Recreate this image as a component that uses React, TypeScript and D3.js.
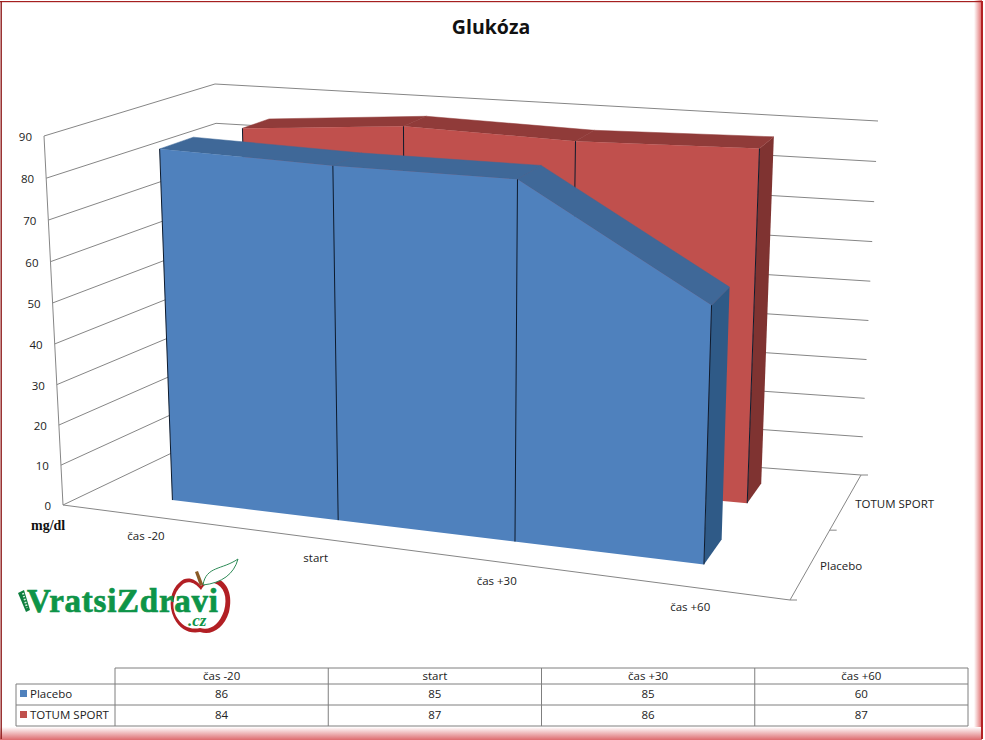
import * as d3 from 'd3';

const width = 985;
const height = 740;

const categories = ['čas -20', 'start', 'čas +30', 'čas +60'];
const seriesNames = ['Placebo', 'TOTUM SPORT'];
const placebo = [86, 85, 85, 60];
const totumSport = [84, 87, 86, 87];
const valueTicks = [0, 10, 20, 30, 40, 50, 60, 70, 80, 90];

const seriesColors = [
  { front: '#4f81bd', top: '#3f6898', side: '#2f5a87', swatch: '#4f81bd' },
  { front: '#c0504d', top: '#903b39', side: '#7f3331', swatch: '#c0504d' },
];

// corners of the 3d box as seen on screen
const box = {
  floorFrontLeft: [63, 505],
  floorFrontRight: [790, 600],
  floorBackLeft: [224, 428],
  floorBackRight: [861, 475],
  topFrontLeft: [44, 136],
  topFrontRight: [806, 192],
  topBackLeft: [215, 84],
  topBackRight: [878, 121],
};

const catScale = d3.scalePoint<string>().domain(categories).range([0, 1]).padding(0.5);
const serScale = d3
  .scaleBand<string>()
  .domain(seriesNames)
  .range([0, 1])
  .paddingInner(0.62)
  .paddingOuter(0.31);
const valScale = d3.scaleLinear().domain([0, 90]).range([0, 1]);

const warp = (t: number, k: number) => t / (t + (1 - t) * k);
const mix = (a: number[], b: number[], t: number) => [a[0] + (b[0] - a[0]) * t, a[1] + (b[1] - a[1]) * t];

// u along categories, v up the value axis, w into the depth
const project = (u: number, v: number, w: number) => {
  const uu = warp(u, 1.14);
  const ww = warp(w, 0.79);
  const vv = warp(v, 1.033);
  const floor = mix(
    mix(box.floorFrontLeft, box.floorFrontRight, uu),
    mix(box.floorBackLeft, box.floorBackRight, uu),
    ww
  );
  const top = mix(
    mix(box.topFrontLeft, box.topFrontRight, uu),
    mix(box.topBackLeft, box.topBackRight, uu),
    ww
  );
  return mix(floor, top, vv) as [number, number];
};

const poly = (pts: [number, number][]) => d3.line()(pts) + 'Z';
const seg = (a: [number, number], b: [number, number]) => d3.line()([a, b]) as string;

const Area3D = ({ index, values }: { index: number; values: number[] }) => {
  const name = seriesNames[index];
  const w0 = serScale(name) as number;
  const w1 = w0 + serScale.bandwidth();
  const colors = seriesColors[index];
  const pts = categories.map((c, i) => ({
    u: catScale(c) as number,
    v: valScale(values[i]),
  }));
  const last = pts[pts.length - 1];
  const face: [number, number][] = [
    ...pts.map((p) => project(p.u, p.v, w0)),
    project(last.u, 0, w0),
    project(pts[0].u, 0, w0),
  ];
  return (
    <g>
      <path
        d={poly([
          project(last.u, last.v, w0),
          project(last.u, last.v, w1),
          project(last.u, 0, w1),
          project(last.u, 0, w0),
        ])}
        fill={colors.side}
      />
      {pts.slice(1).map((p, i) => (
        <path
          key={i}
          d={poly([
            project(pts[i].u, pts[i].v, w0),
            project(pts[i].u, pts[i].v, w1),
            project(p.u, p.v, w1),
            project(p.u, p.v, w0),
          ])}
          fill={colors.top}
          stroke={colors.top}
          strokeWidth={0.5}
        />
      ))}
      <path d={poly(face)} fill={colors.front} />
      {pts.map((p, i) => (
        <path
          key={i}
          d={seg(project(p.u, p.v, w0), project(p.u, 0, w0))}
          stroke="#0d1a2c"
          strokeWidth={1}
          fill="none"
        />
      ))}
    </g>
  );
};

const Frame = () => (
  <g>
    <defs>
      <linearGradient id="frameRight" x1="0" x2="1" y1="0" y2="0">
        <stop offset="0" stopColor="#ffffff" />
        <stop offset="1" stopColor="#e06a6a" />
      </linearGradient>
      <linearGradient id="frameBottom" x1="0" x2="0" y1="0" y2="1">
        <stop offset="0" stopColor="#ffffff" />
        <stop offset="1" stopColor="#dd6b6e" />
      </linearGradient>
    </defs>
    <rect x={0} y={0} width={width} height={height} fill="#ffffff" />
    <rect x={974} y={0} width={8} height={height} fill="url(#frameRight)" />
    <rect x={0} y={727} width={982} height={13} fill="url(#frameBottom)" />
    <rect x={0} y={1} width={982} height={1.2} fill="#a52020" />
    <rect x={0.5} y={1} width={1.4} height={738} fill="#8f1d1d" />
    <rect x={981} y={1} width={2} height={738} fill="#b32225" />
  </g>
);

const Logo = () => (
  <g>
    <path
      d="M201 586C195 578 186 576 180 582C170 590 168 606 174 618C180 630 190 634 200 632C212 636 224 628 229 612C233 596 228 582 216 578C209 576 204 581 201 586Z"
      fill="#b21f24"
    />
    <path
      d="M201 590C195 582 187 580 182 585C173 593 171 606 176 616C182 627 191 630 200 628C210 631 219 625 224 611C228 597 224 586 214 583C208 581 204 585 201 590Z"
      fill="#ffffff"
    />
    <path d="M195 572L198 571L203 584L200 586Z" fill="#8a5a26" />
    <path d="M203 585C206 566 222 570 238 559C234 574 222 583 203 585Z" fill="#ffffff" stroke="#2e8b57" strokeWidth={1} />
    <path d="M24 590L18 593L26 612L30 610Z" fill="#0e7f3e" />
    <path d="M23 593L27 608" stroke="#d5efdc" strokeWidth={2} strokeDasharray="1.5 1.5" fill="none" />
    <text
      x={27}
      y={612}
      fontFamily="'Liberation Serif', serif"
      fontWeight={700}
      fontSize={33}
      fill="#0e9448"
      stroke="#0e9448"
      strokeWidth={0.7}
      textLength={191}
      lengthAdjust="spacing"
    >
      VratsiZdravi
    </text>
    <text x={188} y={626} fontFamily="'Liberation Serif', serif" fontStyle="italic" fontWeight={700} fontSize={17} fill="#0e9448">
      .cz
    </text>
  </g>
);

const Table = () => {
  const colX = d3.scaleBand<string>().domain(categories).range([115, 968]);
  const rowY = [668, 684, 705, 726];
  const font = { fontFamily: "'Open Sans', sans-serif", fontSize: 11.5, fill: '#222' };
  const lineColor = '#7f7f7f';
  return (
    <g>
      <path d={`M115 ${rowY[0]}H968V${rowY[3]}H16V${rowY[1]}H968M16 ${rowY[2]}H968`} fill="none" stroke={lineColor} />
      {categories.map((c) => (
        <path key={c} d={`M${colX(c)} ${rowY[0]}V${rowY[3]}`} stroke={lineColor} />
      ))}
      {categories.map((c, i) => {
        const x = (colX(c) as number) + colX.bandwidth() / 2;
        return (
          <g key={c} textAnchor="middle" {...font}>
            <text x={x} y={680}>{c}</text>
            <text x={x} y={698}>{placebo[i]}</text>
            <text x={x} y={719}>{totumSport[i]}</text>
          </g>
        );
      })}
      {seriesNames.map((s, i) => (
        <g key={s}>
          <rect x={20} y={i === 0 ? 690 : 711} width={7} height={7} fill={seriesColors[i].swatch} />
          <text x={30} y={i === 0 ? 698 : 719} {...font}>{s}</text>
        </g>
      ))}
    </g>
  );
};

export default function App() {
  const axisFont = { fontFamily: "'Open Sans', sans-serif", fontSize: 11.5, fill: '#222' };
  const wallColor = '#868686';
  return (
    <svg
      width={width}
      height={height}
      viewBox={`0 0 ${width} ${height}`}
      style={{ position: 'absolute', left: 0, top: 0, display: 'block' }}
    >
      <Frame />
      <text x={491} y={34} textAnchor="middle" fontFamily="'Open Sans', sans-serif" fontWeight={700} fontSize={19.5} fill="#111">
        Glukóza
      </text>

      <g fill="none" stroke={wallColor} strokeWidth={1}>
        {valueTicks.map((t) => {
          const v = valScale(t);
          return (
            <path
              key={t}
              d={d3.line()([project(0, v, 0), project(0, v, 1), project(1, v, 1)]) as string}
            />
          );
        })}
        <path d={seg(project(0, 0, 0), project(0, 1, 0))} />
        <path d={seg(project(0, 0, 0), project(1, 0, 0))} />
        <path d={seg(project(1, 0, 0), project(1, 0, 1))} />
        {[0, 0.5, 1].map((w) => {
          const a = project(1, 0, w);
          return <path key={w} d={`M${a[0]} ${a[1]}h7`} />;
        })}
      </g>

      {/* back series first so the front one covers it */}
      <Area3D index={1} values={totumSport} />
      <Area3D index={0} values={placebo} />

      <g {...axisFont}>
        {valueTicks.map((t) => {
          const p = project(0, valScale(t), 0);
          return (
            <text key={t} x={p[0] - 12} y={p[1] + 5} textAnchor="end">
              {t}
            </text>
          );
        })}
        {categories.map((c) => {
          const p = project(catScale(c) as number, 0, 0);
          return (
            <text key={c} x={p[0] + 2} y={p[1] + 24} textAnchor="middle">
              {c}
            </text>
          );
        })}
        {seriesNames.map((s) => {
          const p = project(1, 0, (serScale(s) as number) + serScale.bandwidth() / 2);
          return (
            <text key={s} x={p[0] + 9} y={p[1] + 7} textAnchor="start">
              {s}
            </text>
          );
        })}
      </g>
      <text x={31} y={530} fontFamily="'Liberation Serif', serif" fontWeight={700} fontSize={14} fill="#111">
        mg/dl
      </text>

      <Logo />
      <Table />
    </svg>
  );
}
